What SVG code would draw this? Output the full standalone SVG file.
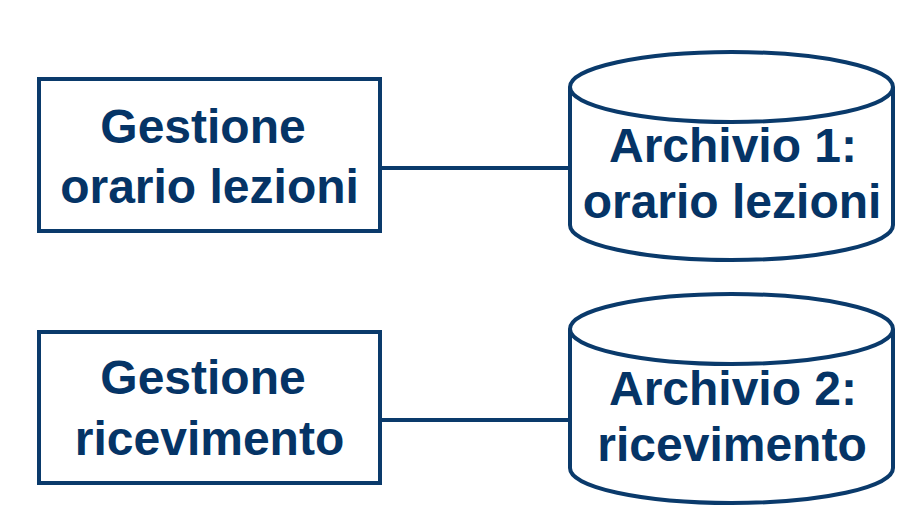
<svg xmlns="http://www.w3.org/2000/svg" width="917" height="523" viewBox="0 0 917 523">
<style>
.shape{fill:#ffffff;stroke:#0a3a6b;stroke-width:4}
.conn{stroke:#0a3a6b;stroke-width:4;fill:none}
.t{font-family:"Liberation Sans",Arial,sans-serif;font-weight:bold;font-size:48px;fill:#053466;text-anchor:middle}
</style>
<rect width="917" height="523" fill="#ffffff"/>
<g id="connectors">
<line class="conn" x1="381" y1="168" x2="570" y2="168"/>
<line class="conn" x1="381" y1="420" x2="570" y2="420"/>
</g>
<g id="gestione-orario">
<rect class="shape" x="39" y="79" width="341" height="152"/>
<text class="t" x="203" y="143">Gestione</text>
<text class="t" x="209.5" y="203">orario lezioni</text>
</g>
<g id="archivio-1">
<path class="shape" d="M570,87 L570,225 A161.5,35 0 0 0 893,225 L893,87 A161.5,35 0 0 0 570,87 Z"/>
<path class="conn" d="M570,87 A161.5,35 0 0 0 893,87"/>
<text class="t" x="733" y="162">Archivio 1:</text>
<text class="t" x="732" y="218">orario lezioni</text>
</g>
<g id="gestione-ricevimento">
<rect class="shape" x="39" y="332" width="341" height="151"/>
<text class="t" x="203" y="394">Gestione</text>
<text class="t" x="209.5" y="455">ricevimento</text>
</g>
<g id="archivio-2">
<path class="shape" d="M570,329 L570,468 A161.5,35 0 0 0 893,468 L893,329 A161.5,35 0 0 0 570,329 Z"/>
<path class="conn" d="M570,329 A161.5,35 0 0 0 893,329"/>
<text class="t" x="733" y="405">Archivio 2:</text>
<text class="t" x="732" y="461">ricevimento</text>
</g>
</svg>
